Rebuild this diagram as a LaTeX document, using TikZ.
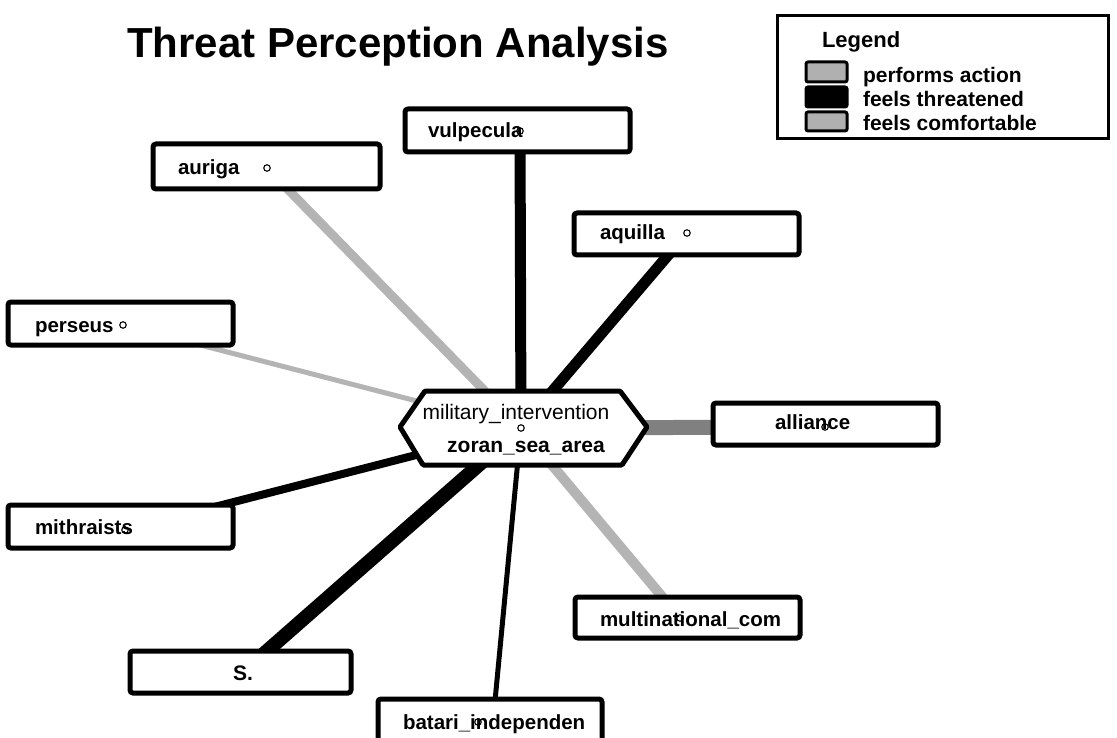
\documentclass[tikz,border=0pt]{standalone}
\usepackage{fontspec}
\setmainfont{Liberation Sans}
\begin{document}
\begin{tikzpicture}[x=1pt,y=-1pt,
  every node/.style={inner sep=0pt, outer sep=0pt},
  actor/.style={draw=black, line width=5pt, rounded corners=3pt, fill=white},
  lbl/.style={anchor=base west, font=\fontsize{20.5}{24}\selectfont\bfseries},
  pin/.style={circle, draw=black, line width=1.1pt, minimum size=6.5pt, fill=none},
  threat/.style={draw=black, line cap=butt},
  comfort/.style={draw=lightgrey, line cap=butt},
  acts/.style={draw=midgrey, line cap=butt},
  swatch/.style={draw=black, line width=3pt, rounded corners=2pt},
  legtext/.style={anchor=base west, font=\fontsize{21}{24}\selectfont\bfseries}
]
\definecolor{lightgrey}{HTML}{B4B4B4}
\definecolor{midgrey}{HTML}{808080}
\definecolor{swatchgrey}{HTML}{B0B0B0}
\useasboundingbox (0,0) rectangle (1117,738);
\fill[white] (0,0) rectangle (1117,738);

% anchor points of the actors
\coordinate (hub) at (521,428);
\coordinate (vul) at (520,131);
\coordinate (aur) at (267,168);
\coordinate (aqu) at (687,233);
\coordinate (per) at (123,325);
\coordinate (all) at (825,427);
\coordinate (mit) at (125,530);
\coordinate (sss) at (243,672);
\coordinate (bat) at (493,722);
\coordinate (mul) at (680,618);

% relations
\draw[threat, line width=11pt] (vul) -- (hub);
\draw[comfort, line width=9pt] (aur) -- (hub);
\draw[threat, line width=11pt] (aqu) -- (hub);
\draw[comfort, line width=5pt] (per) -- (hub);
\draw[acts, line width=15pt] (all) -- (hub);
\draw[threat, line width=8pt] (mit) -- (hub);
\draw[threat, line width=14pt] (sss) -- (hub);
\draw[threat, line width=5pt] (bat) -- (hub);
\draw[comfort, line width=10pt] (mul) -- (hub);

% title
\node (title) [anchor=base, font=\fontsize{42}{48}\selectfont\bfseries] at (398,58) {Threat Perception Analysis};

% central action node
\draw[actor, rounded corners=1pt] (400,427) -- (425,391) -- (620,391) -- (647,427) -- (622,465) -- (423,465) -- cycle;
\node (act) [anchor=base, font=\fontsize{21}{24}\selectfont] at (516,419) {military\_intervention};
\node (tgt) [anchor=base, font=\fontsize{21}{24}\selectfont\bfseries] at (526,452) {zoran\_sea\_area};

% actor boxes
\draw[actor] (405,109) rectangle (630,152);
\node (vulL) [lbl] at (428,138) {vulpecula};
\draw[actor] (153,144) rectangle (380,189);
\node (aurL) [lbl] at (178,175) {auriga};
\draw[actor] (574,213) rectangle (799,255);
\node (aquL) [lbl] at (600,240) {aquilla};
\draw[actor] (8,302) rectangle (233,345);
\node (perL) [lbl] at (35,332) {perseus};
\draw[actor] (713,403) rectangle (938,445);
\node (allL) [lbl] at (775,429) {alliance};
\draw[actor] (8,505) rectangle (233,548);
\node (mitL) [lbl] at (35,534) {mithraists};
\draw[actor] (130,651) rectangle (351,693);
\node (sssL) [anchor=base, font=\fontsize{21}{24}\selectfont\bfseries] at (243,680) {S.};
\draw[actor] (378,699) rectangle (602,742);
\node (batL) [lbl] at (403,729) {batari\_independen};
\draw[actor] (575,597) rectangle (800,638);
\node (mulL) [lbl] at (600,626) {multinational\_com};

% anchor markers
\node[pin] (hubP) at (hub) {};
\node[pin] (vulP) at (vul) {};
\node[pin] (aurP) at (aur) {};
\node[pin] (aquP) at (aqu) {};
\node[pin] (perP) at (per) {};
\node[pin] (allP) at (all) {};
\node[pin] (mitP) at (mit) {};
\node[pin] (batP) at (478,722) {};
\node[pin] (mulP) at (mul) {};

% legend
\draw[black, line width=3pt] (777,16) rectangle (1108,139);
\node (legT) [anchor=base west, font=\fontsize{22}{26}\selectfont\bfseries] at (822,48) {Legend};
\draw[swatch, fill=swatchgrey] (806,62) rectangle (847,82);
\draw[swatch, fill=black] (806,87) rectangle (847,107);
\draw[swatch, fill=swatchgrey] (806,112) rectangle (847,131);
\node (leg1) [legtext] at (863,83) {performs action};
\node (leg2) [legtext] at (863,107) {feels threatened};
\node (leg3) [legtext] at (863,131) {feels comfortable};
\end{tikzpicture}
\end{document}
